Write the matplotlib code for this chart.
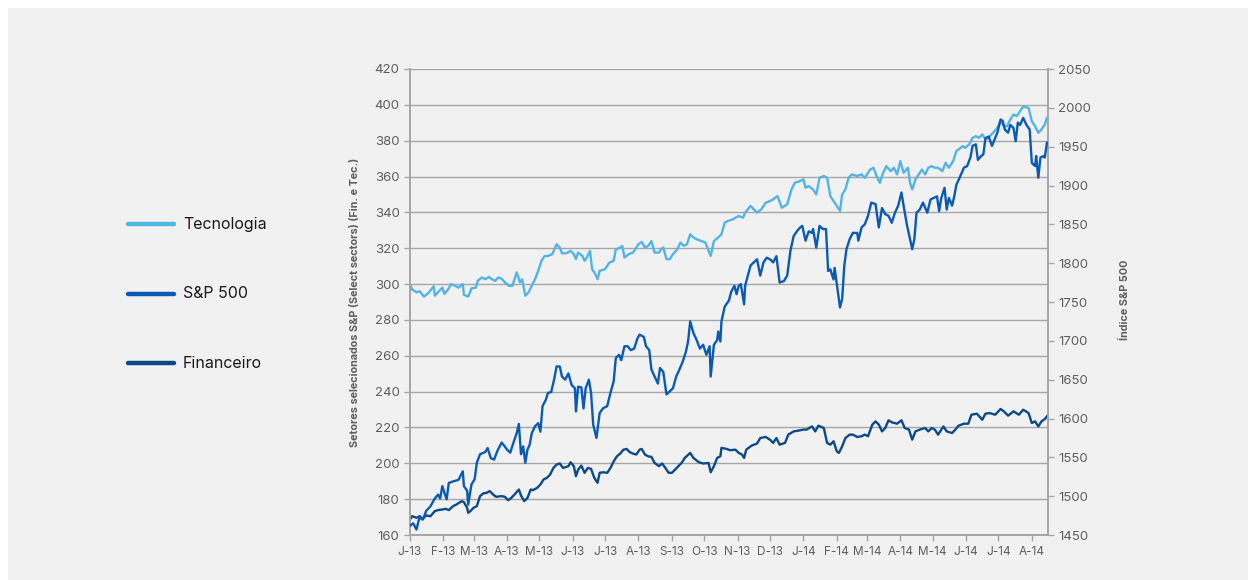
import numpy as np
import pandas as pd
import matplotlib
matplotlib.use("Agg")
import matplotlib.pyplot as plt
from matplotlib.patches import Rectangle

# Days counted from 2013-01-01
START = pd.Timestamp("2013-01-01")

tec_days = [0, 2, 6, 9, 13, 17, 22, 23, 26, 30, 32, 36, 38, 42, 45, 49, 50, 54, 57, 61,
            63, 67, 70, 73, 76, 79, 82, 85, 88, 92, 95, 99, 102, 104, 107, 110, 113, 116, 119, 122,
            125, 128, 132, 134, 136, 139, 141, 145, 149, 152, 154, 156, 160, 162, 164, 167, 169, 172, 174, 176,
            181, 185, 189, 191, 195, 197, 199, 203, 207, 212, 215, 218, 221, 224, 227, 231, 233, 235, 238, 241,
            244, 248, 251, 254, 257, 260, 263, 266, 274, 279, 282, 286, 289, 292, 295, 299, 302, 305, 309, 311,
            316, 319, 322, 326, 330, 334, 337, 341, 345, 350, 354, 357, 362, 365, 367, 370, 374, 377, 380, 384,
            387, 390, 393, 396, 399, 401, 404, 407, 410, 415, 419, 422, 427, 430, 433, 436, 439, 442, 446, 449,
            452, 455, 458, 462, 464, 466, 469, 472, 475, 478, 481, 484, 487, 490, 494, 497, 500, 504, 507, 509,
            513, 515, 519, 522, 525, 528, 531, 534, 538, 541, 545, 548, 551, 554, 557, 560, 563, 566, 569, 574,
            577, 580, 583, 586, 589, 591]
tec_vals = [300, 297, 295.4, 296, 293, 295, 298.7, 293.5, 295.4, 298, 294.5, 297.6, 300, 299, 298, 300, 294, 293, 297.6, 298,
            302, 303.7, 302.7, 304, 302.7, 301.8, 303.7, 303, 301, 299, 299, 306.5, 301, 302.7, 293.5, 295.4, 299, 302.7, 307.4, 313,
            315.7, 315.7, 316.7, 319.4, 322.2, 320.4, 317.2, 317.2, 318.5, 316.7, 313.9, 317.6, 315.7, 313, 314.8, 318.5, 308.3, 305.5, 302.7, 307.4,
            308.3, 312, 313, 319.4, 320.4, 321.3, 314.8, 316.7, 317.6, 322.2, 323.5, 320.4, 321.3, 324, 317.6, 317.6, 319.4, 320.4, 313.9, 313.9,
            316.7, 319.4, 323.2, 321.3, 322.2, 327.8, 326, 325, 323.2, 315.7, 324, 326, 327.8, 334.3, 335.2, 336, 337, 338, 337, 339.9,
            343.6, 341.7, 339.9, 341.7, 345.4, 346.3, 347.3, 349.1, 342.6, 344.5, 352.8, 356.5, 357.5, 358.4, 353.8, 354.7, 352.8, 350, 359.3, 360.3,
            359.3, 349.1, 346.3, 343.6, 340.8, 350, 352.8, 359.3, 361.2, 360.3, 361.2, 359.3, 363.9, 364.9, 360.3, 356.5, 362.1, 365.8, 363, 364.9,
            361.2, 368.6, 362.1, 364.9, 356.5, 352.8, 358.4, 361.2, 363.9, 361.2, 364.9, 365.8, 364.9, 364.9, 363, 367.7, 364.9, 368.6, 374.2, 375.1,
            377, 376, 378, 381.6, 382.5, 381.6, 383.5, 380.7, 382.5, 384.4, 387.2, 390.9, 388.1, 388.1, 391.8, 394.6, 393.7, 396.5, 399, 398.3,
            390.9, 388.1, 384.4, 386.3, 389, 392.7]

sp_days = [0, 3, 6, 9, 12, 15, 19, 23, 26, 28, 30, 32, 34, 36, 40, 45, 49, 50, 53, 54,
           57, 60, 62, 65, 70, 72, 75, 78, 81, 85, 88, 90, 93, 96, 99, 101, 103, 105, 107, 109,
           111, 113, 116, 119, 121, 123, 126, 128, 131, 134, 136, 139, 141, 144, 147, 150, 153, 154, 156, 159,
           161, 163, 166, 168, 170, 173, 176, 179, 183, 186, 189, 191, 194, 196, 199, 202, 205, 208, 211, 213,
           217, 219, 222, 224, 227, 230, 232, 235, 238, 241, 244, 247, 250, 253, 256, 258, 260, 263, 266, 269,
           272, 275, 278, 279, 282, 285, 286, 288, 289, 292, 296, 298, 301, 303, 305, 307, 310, 311, 316, 319,
           322, 325, 328, 331, 334, 337, 340, 343, 347, 350, 353, 356, 359, 362, 364, 367, 370, 373, 374, 377,
           380, 383, 386, 388, 390, 393, 394, 398, 399, 401, 403, 405, 408, 411, 415, 416, 419, 422, 425, 428,
           432, 435, 438, 441, 444, 447, 450, 453, 456, 458, 461, 464, 466, 468, 470, 473, 476, 480, 483, 486,
           489, 491, 493, 496, 498, 500, 503, 505, 507, 510, 514, 517, 520, 522, 525, 527, 530, 532, 534, 537,
           540, 543, 545, 548, 550, 552, 555, 557, 560, 562, 564, 566, 569, 572, 575, 577, 580, 581, 583, 585,
           588, 589, 591]
sp_vals = [1462, 1465, 1457, 1474, 1470, 1481, 1487, 1497, 1502, 1497, 1513, 1504, 1496, 1517, 1519, 1521, 1532, 1513, 1507, 1489,
           1515, 1522, 1543, 1554, 1557, 1562, 1549, 1547, 1558, 1569, 1564, 1560, 1556, 1569, 1581, 1593, 1554, 1564, 1543, 1560,
           1566, 1581, 1590, 1594, 1583, 1616, 1624, 1633, 1634, 1652, 1667, 1667, 1654, 1650, 1658, 1643, 1639, 1609, 1641, 1640,
           1613, 1639, 1650, 1633, 1592, 1575, 1607, 1613, 1616, 1633, 1648, 1678, 1682, 1675, 1693, 1693, 1688, 1690, 1703, 1708,
           1705, 1693, 1688, 1663, 1654, 1645, 1665, 1660, 1631, 1635, 1639, 1654, 1663, 1673, 1686, 1699, 1725, 1710, 1701, 1690,
           1695, 1682, 1693, 1654, 1695, 1701, 1712, 1699, 1725, 1744, 1752, 1763, 1771, 1760, 1771, 1773, 1747, 1771, 1797, 1801,
           1805, 1784, 1801, 1807, 1805, 1801, 1809, 1775, 1777, 1784, 1816, 1835, 1841, 1846, 1848, 1829, 1841, 1839, 1844, 1820,
           1848, 1844, 1844, 1790, 1792, 1779, 1794, 1754, 1743, 1754, 1797, 1818, 1831, 1839, 1839, 1829, 1846, 1850, 1861, 1878,
           1876, 1846, 1871, 1863, 1861, 1852, 1865, 1874, 1891, 1874, 1850, 1831, 1818, 1831, 1865, 1869, 1878, 1865, 1882, 1884,
           1886, 1867, 1884, 1897, 1869, 1884, 1874, 1886, 1901, 1910, 1923, 1925, 1936, 1951, 1953, 1933, 1938, 1940, 1961, 1963,
           1951, 1961, 1968, 1985, 1983, 1972, 1968, 1978, 1974, 1957, 1981, 1978, 1987, 1978, 1972, 1929, 1925, 1938, 1910, 1936,
           1938, 1936, 1955]

fin_days = [0, 2, 6, 9, 11, 15, 19, 23, 26, 30, 33, 36, 40, 43, 48, 50, 53, 54, 56, 59,
            62, 65, 68, 71, 74, 77, 80, 85, 88, 91, 94, 97, 101, 103, 106, 109, 112, 114, 118, 121,
            124, 127, 130, 133, 136, 139, 142, 147, 149, 152, 154, 156, 159, 162, 165, 168, 171, 174, 176, 179,
            183, 186, 189, 192, 195, 198, 201, 204, 207, 210, 213, 215, 218, 221, 224, 227, 231, 234, 237, 240,
            243, 246, 249, 252, 255, 260, 263, 268, 272, 277, 279, 282, 285, 288, 289, 294, 297, 302, 305, 308,
            310, 312, 317, 322, 325, 330, 334, 337, 340, 343, 348, 351, 356, 360, 365, 368, 373, 376, 379, 384,
            387, 390, 393, 396, 398, 401, 404, 408, 411, 415, 419, 422, 425, 429, 432, 435, 438, 441, 444, 447,
            452, 456, 459, 463, 466, 469, 473, 478, 481, 484, 487, 490, 495, 498, 503, 506, 509, 514, 518, 521,
            526, 531, 534, 538, 543, 548, 551, 555, 560, 565, 569, 574, 577, 580, 583, 586, 589, 591]
fin_vals = [168.7, 170.5, 169.6, 170.5, 168.7, 170.9, 170.5, 173.3, 173.9, 174.2, 174.6, 173.9, 176.1, 177, 178.9, 178.3, 175.2, 172.4, 173.3, 175.2,
            176.1, 181.7, 183.2, 183.5, 184.5, 182.6, 181.3, 181.7, 181.3, 179.4, 180.7, 182.6, 185.4, 182, 178.9, 180.7, 185.4, 185, 186.3, 188.2,
            191, 191.9, 193.7, 197.4, 199.3, 199.9, 197.4, 198.4, 200.6, 198.4, 192.8, 196.5, 198.7, 194.7, 197.4, 196.9, 191.9, 189.1, 194.7, 195,
            194.7, 197.4, 201.1, 203.9, 205.4, 207.6, 208, 206.2, 205.4, 204.9, 207.6, 208, 204.9, 203.9, 203.6, 200.2, 198.4, 199.9, 197.4, 194.7,
            194.7, 196.5, 198.4, 200.2, 203, 205.8, 203, 200.6, 199.9, 200.2, 195, 198.4, 203, 203.9, 208.6, 208, 207.3, 207.6, 205.8, 204.9,
            203, 207.6, 209.9, 211, 214.1, 214.7, 213.2, 211.4, 214.1, 210.4, 211.4, 216, 217.8, 218.2, 218.8, 218.8, 220.6, 217.8, 221, 219.7,
            211.4, 210.4, 212.3, 206.7, 205.8, 209.5, 214.1, 216, 216, 214.7, 215.1, 216, 215.1, 221.6, 223.4, 221.6, 217.8, 219.7, 224, 222.9,
            222.1, 224, 219.7, 218.8, 213.2, 217.8, 218.8, 219.7, 217.8, 219.7, 218.8, 216, 220.6, 217.8, 216.9, 218.8, 221, 222.1, 222.1, 227.1,
            227.7, 224.3, 227.7, 228, 227.1, 230.3, 229, 226.6, 229, 227.1, 229.9, 228, 222.5, 223.4, 220.6, 223.4, 224.7, 226.2]

series_names = ["Tecnologia", "S&P 500", "Financeiro"]
series_colors = ["#52b4e6", "#0a5ab4", "#0b4a86"]

month_labels = ["J-13", "F-13", "M-13", "A-13", "M-13", "J-13", "J-13", "A-13", "S-13", "O-13",
                "N-13", "D-13", "J-14", "F-14", "M-14", "A-14", "M-14", "J-14", "J-14", "A-14"]

BG = "#f1f1f1"
GRID = "#a6a6a6"
TXT = "#5e5e5e"


def to_dates(days):
    return START + pd.to_timedelta(days, unit="D")


def main():
    plt.rcParams["font.family"] = ["Inter", "DejaVu Sans"]
    fig = plt.figure(figsize=(12.48, 5.8), dpi=100)
    fig.patch.set_facecolor("white")
    fig.add_artist(Rectangle((8 / 1248, 0), 1 - 8 / 1248, 1 - 8 / 580,
                             transform=fig.transFigure, facecolor=BG, edgecolor="none", zorder=0))

    ax = fig.add_axes([410 / 1248, 45 / 580, 638 / 1248, 466 / 580])
    ax.set_facecolor(BG)
    ax2 = ax.twinx()

    ax.plot(to_dates(tec_days), tec_vals, color=series_colors[0], lw=1.7, zorder=3)
    ax.plot(to_dates(fin_days), fin_vals, color=series_colors[2], lw=1.7, zorder=3)
    ax2.plot(to_dates(sp_days), sp_vals, color=series_colors[1], lw=1.7, zorder=3)

    ax.set_ylim(160, 420)
    ax.set_yticks(np.arange(160, 421, 20))
    ax2.set_ylim(1450, 2050)
    ax2.set_yticks(np.arange(1450, 2051, 50))

    ax.set_xlim(START, to_dates([592])[0])
    ticks = pd.date_range("2013-01-01", "2014-08-01", freq="MS")
    ax.set_xticks(ticks)
    ax.set_xticklabels(month_labels)

    ax.grid(axis="y", color=GRID, lw=1.0)
    ax.set_axisbelow(True)
    for a in (ax, ax2):
        a.spines["top"].set_visible(False)
        for s in ("left", "right", "bottom"):
            a.spines[s].set_color(GRID)
            a.spines[s].set_linewidth(1.2)
        a.tick_params(colors=GRID, labelcolor=TXT, labelsize=9.5, length=4, width=1)
    ax.tick_params(axis="x", labelsize=8.5, pad=4)

    fig.text(355 / 1248, 1 - 302 / 580, "Setores selecionados S&P (Select sectors) (Fin. e Tec.)",
             rotation=90, ha="center", va="center", fontsize=7.8, fontweight="bold", color=TXT)
    fig.text(1125 / 1248, 1 - 300 / 580, "Índice S&P 500",
             rotation=90, ha="center", va="center", fontsize=7.8, fontweight="bold", color=TXT)

    # legend drawn by hand on the left side
    for i, (name, c) in enumerate(zip(series_names, series_colors)):
        y = 1 - (224 + 69.5 * i) / 580
        fig.add_artist(plt.Line2D([128 / 1248, 174 / 1248], [y, y], color=c, lw=3.2,
                                  solid_capstyle="round", transform=fig.transFigure))
        fig.text(183 / 1248, y, name, ha="left", va="center", fontsize=11.5, color="#1a1a1a")

    fig.savefig("out.png", dpi=100, facecolor=fig.get_facecolor())


if __name__ == "__main__":
    main()
